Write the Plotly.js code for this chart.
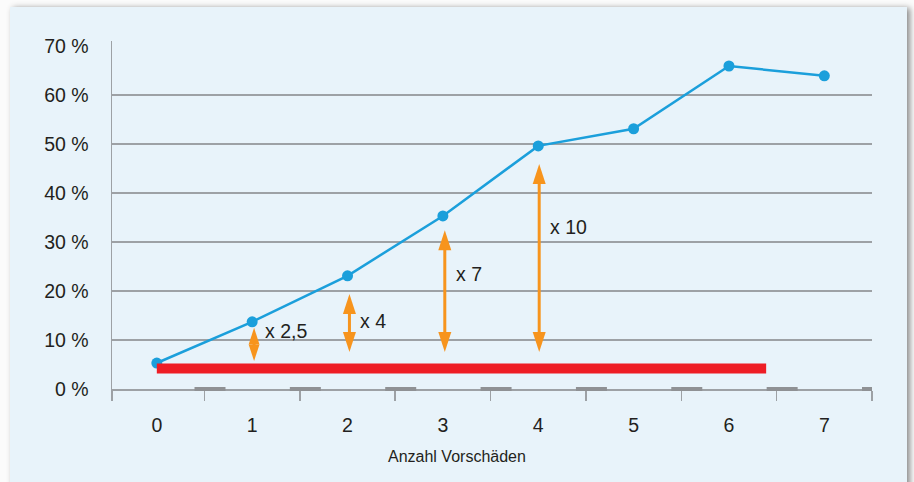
<!DOCTYPE html>
<html>
<head>
<meta charset="utf-8">
<script src="https://cdn.plot.ly/plotly-3.0.1.min.js"></script>
<style>
  html, body { margin: 0; padding: 0; background: #ffffff; }
  #wrap { position: relative; width: 914px; height: 482px; overflow: hidden; background: #fbfbfb; }
  #panel { position: absolute; left: 10px; top: 7px; width: 897px; height: 490px; background: #e8f3fa;
           box-shadow: 3px 1px 6px rgba(0,0,0,0.45); }
  #chart { position: absolute; left: 0; top: 0; width: 914px; height: 482px; }
</style>
</head>
<body>
<div id="wrap">
  <div id="panel"></div>
  <div id="chart"></div>
</div>
<script>
// ---- data ----
const categories = [0, 1, 2, 3, 4, 5, 6, 7];
const categoryLabels = ['0', '1', '2', '3', '4', '5', '6', '7'];
const shareValues = [5.3, 13.7, 23.1, 35.3, 49.6, 53.1, 65.9, 63.9];   // %
const baselineX = [0, 6.39];
const baselineY = [4.2, 4.2];
const arrowX = [1.02, 2.02, 3.02, 4.01];
const arrowLow = [5.7, 7.55, 7.55, 7.55];
const arrowHigh = [12.5, 19.4, 32.4, 45.9];
const arrowLabels = ['x 2,5', 'x 4', 'x 7', 'x 10'];
const arrowLabelY = [11.8, 13.9, 23.5, 33.1];
const yTickVals = [0, 10, 20, 30, 40, 50, 60, 70];
const yTickText = ['0 %', '10 %', '20 %', '30 %', '40 %', '50 %', '60 %', '70 %'];
const yGridVals = [10, 20, 30, 40, 50, 60];
const xTickMarks = [-0.47, 0.5, 1.5, 2.5, 3.5, 4.5, 5.5, 6.5, 7.5];
const xTickBars = [0.5, 1.5, 2.5, 3.5, 4.5, 5.5, 6.5, 7.5];
const xTitle = 'Anzahl Vorschäden';

// ---- styling ----
const W = 914, H = 482;
const M = {l: 112, r: 42, t: 41, b: 93};
const yRange = [0, 71];
const xRange = [-0.47, 7.5];
const plotH = H - M.t - M.b;
const pxPerUnit = plotH / (yRange[1] - yRange[0]);
const blue = '#1b9fdb', red = '#ee1d25', orange = '#f7941d', grey = '#9da1a5', txt = '#231f20';
const font = 'Liberation Sans, Arial, Helvetica, sans-serif';

const traces = [
  {x: categories, y: shareValues, type: 'scatter', mode: 'lines+markers',
   line: {color: blue, width: 2.5}, marker: {color: blue, size: 11}, hoverinfo: 'skip', cliponaxis: false},
  {x: baselineX, y: baselineY, type: 'scatter', mode: 'lines',
   line: {color: red, width: 10}, hoverinfo: 'skip'}
];

const shapes = [];
const annotations = [];
arrowX.forEach((x, i) => {
  const lenPx = (arrowHigh[i] - arrowLow[i]) * pxPerUnit;
  const h = Math.min(20, lenPx / 2);
  const w = 13 * h / 20;
  shapes.push({type: 'path', xref: 'x', yref: 'y', xsizemode: 'pixel', ysizemode: 'pixel',
    xanchor: x, yanchor: arrowHigh[i], path: `M0,0 L${-w/2},${-h} L${w/2},${-h} Z`,
    fillcolor: orange, line: {width: 0}, layer: 'above'});
  shapes.push({type: 'path', xref: 'x', yref: 'y', xsizemode: 'pixel', ysizemode: 'pixel',
    xanchor: x, yanchor: arrowLow[i], path: `M0,0 L${-w/2},${h} L${w/2},${h} Z`,
    fillcolor: orange, line: {width: 0}, layer: 'above'});
  annotations.push({x: x, y: arrowHigh[i], ax: x, ay: arrowLow[i], axref: 'x', ayref: 'y',
    xref: 'x', yref: 'y', text: '', showarrow: true, arrowhead: 0, arrowwidth: 3,
    arrowcolor: orange, standoff: Math.max(h - 3, 0), startstandoff: Math.max(h - 3, 0)});
  annotations.push({x: x, y: arrowLabelY[i], xref: 'x', yref: 'y', text: arrowLabels[i],
    showarrow: false, xanchor: 'left', yanchor: 'middle', xshift: 9,
    font: {family: font, size: 19.5, color: txt}});
});
xTickBars.forEach(t => {
  shapes.push({type: 'line', xref: 'x', yref: 'paper', xsizemode: 'pixel', ysizemode: 'pixel',
    xanchor: t, yanchor: 0, x0: -10, x1: 21, y0: 0, y1: 0,
    line: {color: '#8f9194', width: 4}, layer: 'above'});
});
annotations.push({x: (457 - M.l) / (W - M.l - M.r), y: (389 - 456) / plotH, xref: 'paper', yref: 'paper',
  text: xTitle, showarrow: false, xanchor: 'center', yanchor: 'middle',
  font: {family: font, size: 16, color: txt}});

const layout = {
  width: W, height: H, margin: M,
  paper_bgcolor: 'rgba(0,0,0,0)', plot_bgcolor: 'rgba(0,0,0,0)',
  showlegend: false,
  font: {family: font, color: txt},
  xaxis: {range: xRange, tickvals: categories, ticktext: categoryLabels, ticks: '',
    showgrid: false, zeroline: false, showline: true, linecolor: grey, linewidth: 1.5,
    tickfont: {family: font, size: 19.5, color: txt}, ticklabelstandoff: 18,
    minor: {tickvals: xTickMarks, ticks: 'outside', ticklen: 10, tickwidth: 1.5, tickcolor: grey, showgrid: false},
    fixedrange: true},
  yaxis: {range: yRange, tickvals: yTickVals, ticktext: yTickText, ticks: '',
    showgrid: false, zeroline: false, showline: true, linecolor: grey, linewidth: 1.5,
    tickfont: {family: font, size: 19.5, color: txt}, ticklabelstandoff: 18,
    minor: {tickvals: yGridVals, showgrid: true, gridcolor: grey, gridwidth: 1.5, ticks: ''},
    fixedrange: true},
  shapes: shapes,
  annotations: annotations
};

Plotly.newPlot('chart', traces, layout, {displayModeBar: false, staticPlot: true});
</script>
</body>
</html>
